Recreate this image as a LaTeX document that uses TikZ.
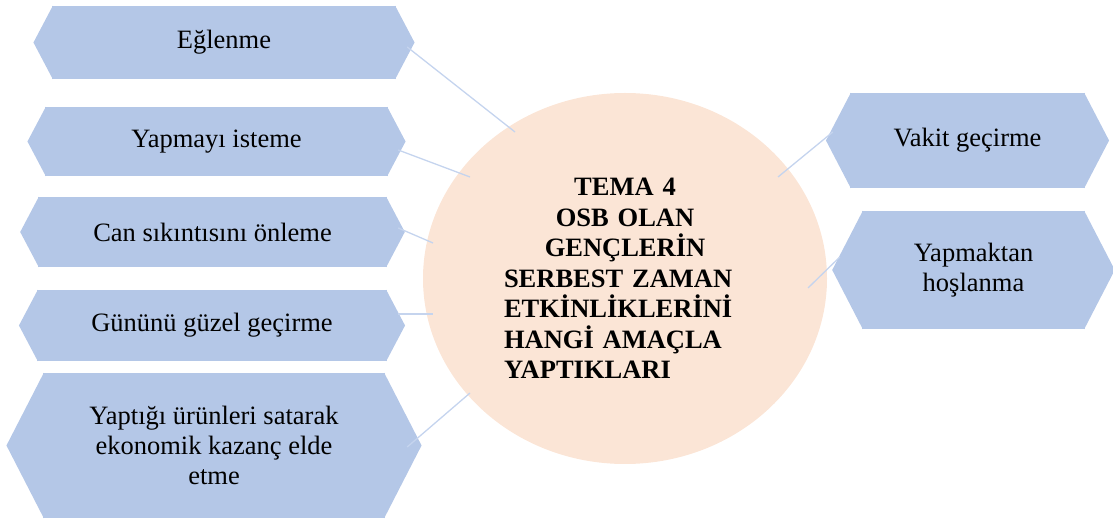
\documentclass[tikz,border=0pt]{standalone}
\usepackage{fontspec}
\setmainfont{Liberation Serif}
\usetikzlibrary{calc,shapes.geometric}
\definecolor{boxblue}{RGB}{180,199,231}
\definecolor{peach}{RGB}{251,229,214}
\definecolor{linkblue}{RGB}{197,212,238}

\begin{document}
\begin{tikzpicture}[x=1pt,y=1pt,
  item/.style={rectangle,fill=boxblue,inner sep=0pt,align=center,
               font=\fontsize{26.5}{30}\selectfont},
  link/.style={draw=linkblue,line width=1.3pt}]

  \useasboundingbox (0,0) rectangle (1113,519);

  % centre
  \node (c) [ellipse,fill=peach,minimum width=404,minimum height=371]
    at (625,240.5) {};

  % left column
  \node (b1) [item,minimum width=344,minimum height=73] at (224,476.5)
    {Eğlenme};
  \node (b2) [item,minimum width=343,minimum height=69] at (216.5,377.5)
    {Yapmayı isteme};
  \node (b3) [item,minimum width=349,minimum height=70] at (212.5,287)
    {Can sıkıntısını önleme};
  \node (b4) [item,minimum width=350,minimum height=71] at (212,193.5)
    {Gününü güzel geçirme};
  \node (b5) [item,minimum width=342,minimum height=145] at (214,73.5)
    {Yaptığı ürünleri satarak\\ekonomik kazanç elde\\etme};

  % right column
  \node (r1) [item,minimum width=235,minimum height=95] at (967.5,378.5)
    {Vakit geçirme};
  \node (r2) [item,minimum width=223,minimum height=118] at (973.5,249)
    {Yapmaktan\\hoşlanma};

  % pointed ends
  \foreach \b in {b1,b2,b3,b4,b5,r1,r2}{
    \fill[boxblue] let \p1=($(\b.north)-(\b.south)$) in
      ([xshift=-1pt]\b.north east) -- ($(\b.east)+(0.25*\y1,0)$)
        -- ([xshift=-1pt]\b.south east) -- cycle
      ([xshift=1pt]\b.north west) -- ($(\b.west)-(0.25*\y1,0)$)
        -- ([xshift=1pt]\b.south west) -- cycle;
  }

  % connectors
  \draw[link] ([shift={(11,-4.5)}]b1.east) -- ([shift={(-110,146.5)}]c.center);
  \draw[link] ([shift={(10,-8.5)}]b2.east) -- ([shift={(-155,101.5)}]c.center);
  \draw[link] ([shift={(11,4)}]b3.east) -- ([shift={(-192,35.5)}]c.center);
  \draw[link] ([shift={(11,11.5)}]b4.east) -- ([shift={(-192,-35.5)}]c.center);
  \draw[link] ([shift={(22,-1.5)}]b5.east) -- ([shift={(-155,-114.5)}]c.center);
  \draw[link] ([shift={(-17,8.5)}]r1.west) -- ([shift={(153,101.5)}]c.center);
  \draw[link] ([shift={(-22,13)}]r2.west) -- ([shift={(183,-9.5)}]c.center);

  % title text
  \node (ctitle) [text width=242pt,align=left,inner sep=0pt,
    font=\bfseries\fontsize{26.5}{30.5}\selectfont] at (c.center)
    {\makebox[\hsize]{TEMA 4}\\
     \makebox[\hsize]{OSB OLAN}\\
     \makebox[\hsize]{GENÇLERİN}\\
     SERBEST ZAMAN\\
     ETKİNLİKLERİNİ\\
     HANGİ AMAÇLA\\
     YAPTIKLARI};
\end{tikzpicture}
\end{document}
